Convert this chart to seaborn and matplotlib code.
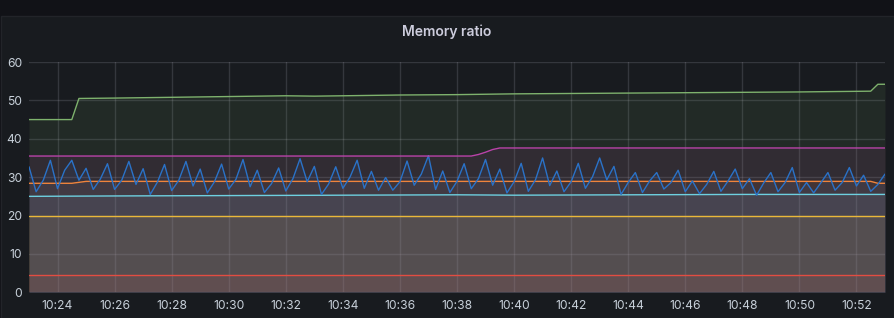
import matplotlib
matplotlib.use("Agg")
import matplotlib.pyplot as plt
import matplotlib.dates as mdates
from matplotlib.patches import Rectangle
import pandas as pd
import seaborn as sns

DAY = "2021-06-01 "
title = "Memory ratio"

# Smooth series: (time, value) readings
green_times = ["10:23:00", "10:24:30", "10:24:45", "10:26:00", "10:28:00", "10:30:00",
               "10:32:00", "10:33:00", "10:34:00", "10:36:00", "10:38:00", "10:40:00",
               "10:42:00", "10:44:00", "10:46:00", "10:48:00", "10:50:00", "10:52:30",
               "10:52:45", "10:53:00"]
green_values = [45.0, 45.0, 50.5, 50.6, 50.8, 51.0, 51.2, 51.1, 51.2, 51.4, 51.5, 51.7,
                51.8, 51.9, 52.0, 52.1, 52.2, 52.4, 54.2, 54.2]

yellow_times = ["10:23:00", "10:38:00", "10:53:00"]
yellow_values = [19.9, 19.9, 19.9]

cyan_times = ["10:23:00", "10:26:00", "10:30:00", "10:34:00", "10:38:00", "10:40:00",
              "10:44:00", "10:48:00", "10:53:00"]
cyan_values = [25.0, 25.1, 25.2, 25.3, 25.4, 25.3, 25.4, 25.5, 25.5]

orange_times = ["10:23:00", "10:24:30", "10:25:00", "10:40:00", "10:52:30", "10:52:45", "10:53:00"]
orange_values = [28.4, 28.4, 28.9, 28.9, 28.9, 28.4, 28.4]

red_times = ["10:23:00", "10:38:00", "10:53:00"]
red_values = [4.4, 4.4, 4.4]

purple_times = ["10:23:00", "10:38:30", "10:38:45", "10:39:00", "10:39:15", "10:39:30", "10:53:00"]
purple_values = [35.5, 35.5, 35.9, 36.5, 37.2, 37.6, 37.6]

# Blue series: 15 s samples from 10:23:00
blue_start = "10:23:00"
blue_values = [
    32.7, 26.2, 29.2, 34.4, 27.0, 31.8, 34.4, 29.2, 32.3, 26.8,
    29.5, 33.5, 26.8, 29.2, 34.1, 28.1, 32.2, 25.5, 28.7, 33.3,
    26.5, 29.2, 34.1, 27.7, 32.1, 25.9, 28.8, 33.4, 26.9, 29.4,
    34.6, 27.5, 31.8, 26.0, 28.3, 32.4, 26.4, 29.6, 34.8, 28.8,
    32.8, 25.5, 28.2, 32.7, 27.1, 30.0, 34.4, 27.1, 31.5, 26.6,
    29.9, 26.6, 28.8, 34.2, 27.9, 30.8, 35.6, 26.8, 31.6, 26.0,
    28.9, 33.5, 27.0, 29.6, 34.6, 27.9, 32.1, 25.9, 28.8, 33.6,
    26.3, 29.3, 35.0, 27.8, 31.6, 26.2, 28.8, 33.6, 27.1, 30.1,
    35.0, 29.3, 32.8, 25.5, 28.6, 31.2, 26.0, 29.0, 31.2, 26.9,
    28.6, 31.8, 26.2, 29.0, 25.7, 28.1, 31.5, 26.3, 29.0, 32.1,
    27.0, 29.6, 25.3, 28.5, 31.2, 26.2, 28.6, 32.5, 26.0, 28.6,
    25.9, 28.5, 31.2, 26.6, 28.6, 32.5, 27.7, 30.5, 26.3, 28.1,
    30.8,
]

series_names = ["A", "B", "C", "D", "E", "F", "G"]
colors = ["#7EB26D", "#EAB839", "#6ED0E0", "#EF843C", "#E24D42", "#2A72C8", "#BA43A9"]

blue_times = pd.date_range(DAY + blue_start, periods=len(blue_values), freq="15s")

frames = []
for name, t, v in [("A", green_times, green_values), ("B", yellow_times, yellow_values),
                   ("C", cyan_times, cyan_values), ("D", orange_times, orange_values),
                   ("E", red_times, red_values)]:
    frames.append(pd.DataFrame({"time": pd.to_datetime([DAY + s for s in t]), "value": v, "series": name}))
frames.append(pd.DataFrame({"time": blue_times, "value": blue_values, "series": "F"}))
frames.append(pd.DataFrame({"time": pd.to_datetime([DAY + s for s in purple_times]),
                            "value": purple_values, "series": "G"}))
df = pd.concat(frames, ignore_index=True)

sns.set_theme(style="dark")
plt.rcParams['font.family'] = ['Inter', 'DejaVu Sans']

W, H = 894, 318
fig = plt.figure(figsize=(W / 100, H / 100), dpi=100, facecolor="#111217")
panel = Rectangle((1 / W, 0), (W - 1) / W, (H - 16) / H, transform=fig.transFigure,
                  facecolor="#181b1f", edgecolor="#222429", lw=1, zorder=-10)
fig.add_artist(panel)

ax = fig.add_axes([29 / W, (H - 292.3) / H, 856 / W, 230.3 / H])
ax.set_zorder(1)
ax.set_facecolor("none")
ax.patch.set_alpha(0)

for name, col in zip(series_names, colors):
    sub = df[df["series"] == name]
    ax.fill_between(sub["time"], 0, sub["value"], color=col, alpha=0.1, lw=0, zorder=1)

sns.lineplot(data=df, x="time", y="value", hue="series", palette=dict(zip(series_names, colors)),
             estimator=None, sort=True, lw=1.0, legend=False, ax=ax, zorder=3)

ax.set_xlim(pd.Timestamp(DAY + "10:23:00"), pd.Timestamp(DAY + "10:53:00"))
ax.set_ylim(0, 60)
ax.set_yticks([0, 10, 20, 30, 40, 50, 60])
ax.xaxis.set_major_locator(mdates.MinuteLocator(byminute=range(0, 60, 2)))
ax.xaxis.set_major_formatter(mdates.DateFormatter("%H:%M"))
ax.set_xlabel("")
ax.set_ylabel("")
for s in ax.spines.values():
    s.set_visible(False)
ax.grid(True, color="#ccccdc", alpha=0.16, lw=1, zorder=2)
ax.tick_params(axis="both", length=0, colors="#c7d0d9", labelsize=8.7)
ax.tick_params(axis="x", pad=5.5)
ax.tick_params(axis="y", pad=5)

fig.text(0.5, (H - 31.5) / H, title, ha="center", va="center", color="#ccccdc",
         fontsize=10, fontweight="semibold")

fig.savefig("out.png", dpi=100, facecolor=fig.get_facecolor())
